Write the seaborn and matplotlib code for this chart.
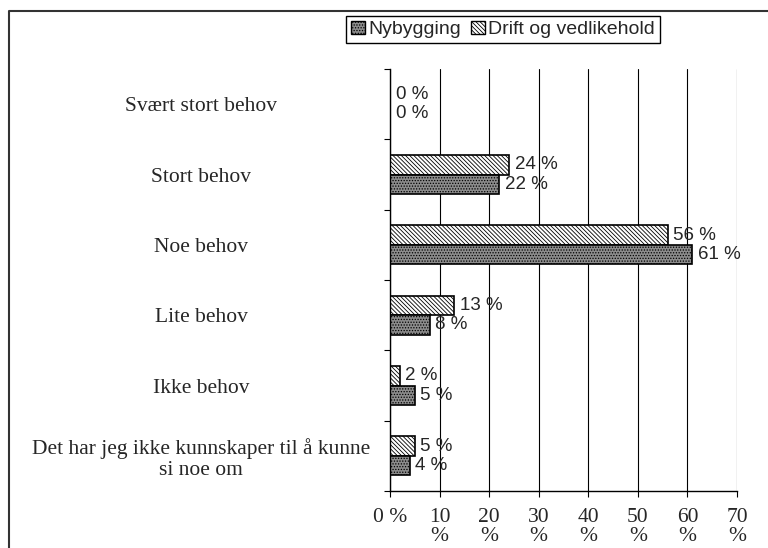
import matplotlib.pyplot as plt
import pandas as pd
import seaborn as sns
from matplotlib.lines import Line2D
from matplotlib.patches import Patch

categories = [
    "Svært stort behov",
    "Stort behov",
    "Noe behov",
    "Lite behov",
    "Ikke behov",
    "Det har jeg ikke kunnskaper til å kunne\nsi noe om",
]
nybygging = [0, 22, 61, 8, 5, 4]
drift = [0, 24, 56, 13, 2, 5]
x_ticks = [0, 10, 20, 30, 40, 50, 60, 70]
x_labels = ["0 %"] + [f"{t}\n%" for t in x_ticks[1:]]

series = ["Drift og vedlikehold", "Nybygging"]
colors = {"Drift og vedlikehold": "white", "Nybygging": "#8c8c8c"}
hatches = {"Drift og vedlikehold": "\\\\\\\\\\\\\\\\", "Nybygging": "......"}

sns.set_style("white")
plt.rcParams["font.family"] = ["Liberation Serif", "DejaVu Serif"]
plt.rcParams["hatch.linewidth"] = 0.6
plt.rcParams["hatch.color"] = "black"
sans = ["Liberation Sans", "DejaVu Sans"]

df = pd.DataFrame({
    "Kategori": categories * 2,
    "Andel": drift + nybygging,
    "Serie": [series[0]] * len(categories) + [series[1]] * len(categories),
})

fig = plt.figure(figsize=(7.68, 5.48), dpi=100)
ax = fig.add_axes([0.5078, 0.104, 0.4518, 0.770])
sns.barplot(df, y="Kategori", x="Andel", hue="Serie", hue_order=series, order=categories,
            orient="h", width=0.555, palette=colors, saturation=1, edgecolor="black",
            linewidth=1.2, legend=False, ax=ax)

for cont, name, vals in zip(ax.containers, series, [drift, nybygging]):
    for bar in cont:
        bar.set_hatch(hatches[name])
    ax.bar_label(cont, labels=[f"{v} %" for v in vals], padding=4, fontsize=13.5, family=sans)

ax.set_xlim(0, 70)
ax.set_ylim(5.5, -0.5)
ax.set_xticks(x_ticks, x_labels)
ax.set_yticks([i - 0.5 for i in range(len(categories) + 1)], [""] * (len(categories) + 1))
ax.set_yticks(range(len(categories)), categories, minor=True)
ax.tick_params(axis="x", bottom=True, length=4.5, width=0.8, pad=8, labelsize=15.5, color="black")
ax.tick_params(axis="y", which="major", left=True, length=4.5, width=0.8, color="black")
ax.tick_params(axis="y", which="minor", left=True, length=0, pad=136, labelsize=15.5)
for lbl in ax.get_xticklabels():
    lbl.set_linespacing(0.95)
for lbl in ax.get_yticklabels(minor=True):
    lbl.set_ha("center")
    lbl.set_multialignment("center")
    lbl.set_linespacing(1.15)

ax.xaxis.grid(True, color="black", linewidth=0.8)
ax.set_axisbelow(True)
ax.set_xlabel("")
ax.set_ylabel("")
sns.despine(ax=ax, top=True, right=True)
for s in ["left", "bottom"]:
    ax.spines[s].set_color("black")
    ax.spines[s].set_linewidth(1)

handles = [Patch(facecolor=colors[n], edgecolor="black", hatch=hatches[n], label=n) for n in series[::-1]]
leg = fig.legend(handles=handles, loc="center", bbox_to_anchor=(0.655, 0.946), ncol=2,
                 frameon=True, fancybox=False, edgecolor="black", framealpha=1,
                 prop={"family": sans, "size": 14}, handlelength=0.7, handleheight=0.7,
                 handletextpad=0.2, columnspacing=0.5, borderpad=0.25, borderaxespad=0)
leg.get_frame().set_linewidth(1)

# outer frame (only top and left edges visible in the original)
fig.add_artist(Line2D([0.0117, 0.0117, 1.0], [0.0, 0.98, 0.98], transform=fig.transFigure,
                      color="#333333", linewidth=1.5))

fig.savefig("out.png", dpi=100)
